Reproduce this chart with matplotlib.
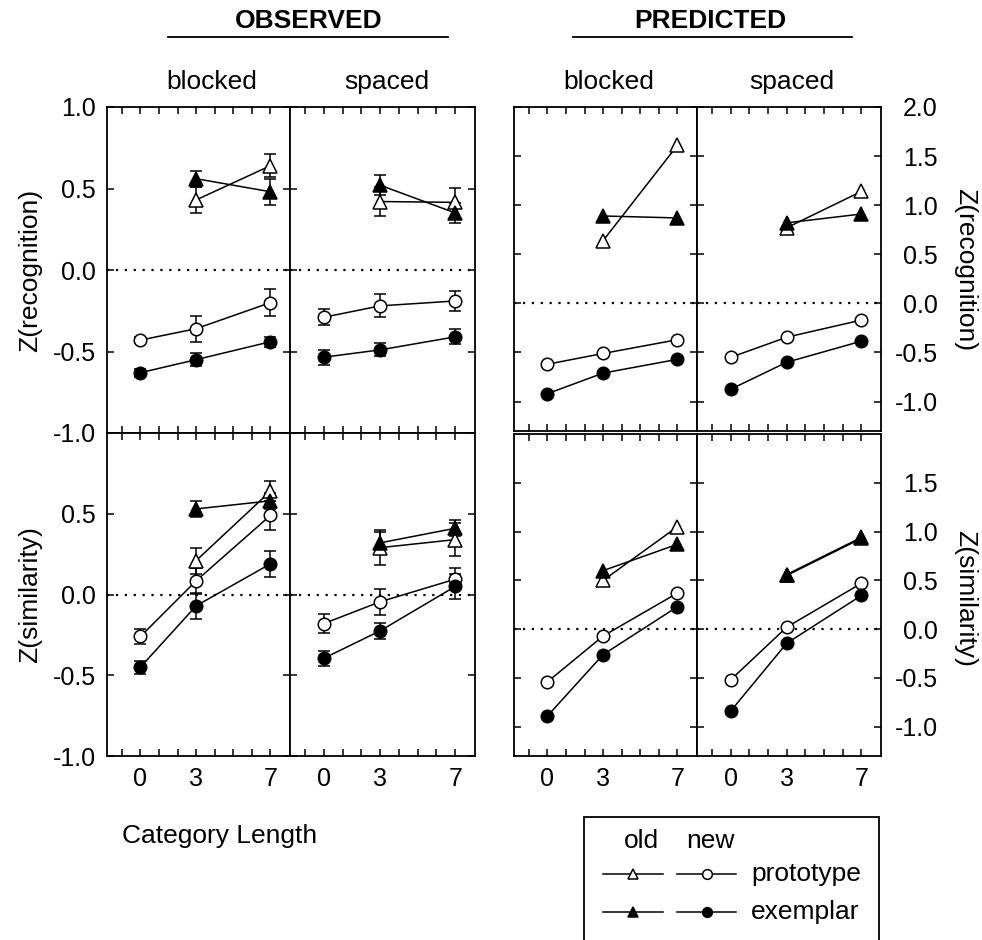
import matplotlib.pyplot as plt
from matplotlib.lines import Line2D
from matplotlib.patches import Rectangle

plt.rcParams['font.family'] = ['Liberation Sans', 'DejaVu Sans']

# category length positions
cat_len_old = [3, 7]
cat_len_new = [0, 3, 7]

# observed, recognition (po = prototype old, eo = exemplar old, pn = prototype new, en = exemplar new)
obs_rec_blk_po = [0.43, 0.64]
obs_rec_blk_eo = [0.56, 0.48]
obs_rec_blk_pn = [-0.43, -0.36, -0.20]
obs_rec_blk_en = [-0.63, -0.55, -0.44]
obs_rec_blk_po_err = [0.08, 0.07]
obs_rec_blk_eo_err = [0.05, 0.08]
obs_rec_blk_pn_err = [0.02, 0.08, 0.085]
obs_rec_blk_en_err = [0.025, 0.04, 0.03]

obs_rec_spc_po = [0.42, 0.415]
obs_rec_spc_eo = [0.52, 0.35]
obs_rec_spc_pn = [-0.29, -0.22, -0.19]
obs_rec_spc_en = [-0.535, -0.49, -0.41]
obs_rec_spc_po_err = [0.09, 0.09]
obs_rec_spc_eo_err = [0.06, 0.06]
obs_rec_spc_pn_err = [0.05, 0.07, 0.06]
obs_rec_spc_en_err = [0.045, 0.04, 0.045]

# observed, similarity
obs_sim_blk_po = [0.21, 0.64]
obs_sim_blk_eo = [0.53, 0.58]
obs_sim_blk_pn = [-0.26, 0.085, 0.49]
obs_sim_blk_en = [-0.45, -0.07, 0.19]
obs_sim_blk_po_err = [0.08, 0.06]
obs_sim_blk_eo_err = [0.05, 0.05]
obs_sim_blk_pn_err = [0.045, 0.08, 0.09]
obs_sim_blk_en_err = [0.04, 0.08, 0.08]

obs_sim_spc_po = [0.29, 0.34]
obs_sim_spc_eo = [0.32, 0.41]
obs_sim_spc_pn = [-0.18, -0.045, 0.095]
obs_sim_spc_en = [-0.395, -0.225, 0.05]
obs_sim_spc_po_err = [0.11, 0.10]
obs_sim_spc_eo_err = [0.07, 0.05]
obs_sim_spc_pn_err = [0.06, 0.08, 0.07]
obs_sim_spc_en_err = [0.045, 0.05, 0.08]

# predicted, recognition
pred_rec_blk_po = [0.64, 1.61]
pred_rec_blk_eo = [0.89, 0.87]
pred_rec_blk_pn = [-0.62, -0.51, -0.37]
pred_rec_blk_en = [-0.92, -0.71, -0.57]

pred_rec_spc_po = [0.77, 1.14]
pred_rec_spc_eo = [0.82, 0.91]
pred_rec_spc_pn = [-0.55, -0.345, -0.17]
pred_rec_spc_en = [-0.875, -0.60, -0.385]

# predicted, similarity
pred_sim_blk_po = [0.50, 1.05]
pred_sim_blk_eo = [0.60, 0.87]
pred_sim_blk_pn = [-0.54, -0.07, 0.37]
pred_sim_blk_en = [-0.89, -0.26, 0.23]

pred_sim_spc_po = [0.55, 0.93]
pred_sim_spc_eo = [0.56, 0.94]
pred_sim_spc_pn = [-0.52, 0.02, 0.47]
pred_sim_spc_en = [-0.84, -0.145, 0.345]

W, H = 982, 940
fig = plt.figure(figsize=(W / 100, H / 100), dpi=100)


def axes_px(x0, y0, x1, y1):
    return fig.add_axes([x0 / W, 1 - y1 / H, (x1 - x0) / W, (y1 - y0) / H])


def fig_text(x, y, s, **kw):
    fig.text(x / W, 1 - y / H, s, **kw)


marker_style = {
    'po': dict(marker='^', mfc='white', ms=10),
    'eo': dict(marker='^', mfc='black', ms=10),
    'pn': dict(marker='o', mfc='white', ms=9),
    'en': dict(marker='o', mfc='black', ms=9),
}


def draw_panel(ax, series, errs=None):
    ax.axhline(0, color='black', ls=(0, (1, 3)), lw=1.6, zorder=1)
    for key, vals in series.items():
        xs = cat_len_old if key.endswith('o') else cat_len_new
        st = marker_style[key]
        if errs is not None:
            ax.errorbar(xs, vals, yerr=errs[key], color='black', lw=1.1,
                        elinewidth=1.1, capsize=4, capthick=1.1,
                        mec='black', mew=1.1, zorder=3, **st)
        else:
            ax.plot(xs, vals, color='black', lw=1.1, mec='black', mew=1.1,
                    zorder=3, **st)


def style_axes(ax, ylim, yticks, ylabels_side, show_x, skip_top_label=False):
    ax.set_xlim(-1.8, 8.05)
    ax.set_ylim(*ylim)
    ax.set_xticks(range(-1, 8))
    ax.set_xticklabels([str(v) if v in (0, 3, 7) else '' for v in range(-1, 8)])
    ax.set_yticks(yticks)
    labels = [f'{v:.1f}' for v in yticks]
    if skip_top_label:
        labels[-1] = ''
    ax.set_yticklabels(labels)
    for sp in ax.spines.values():
        sp.set_linewidth(1.3)
    ax.tick_params(direction='in', length=5, width=1.1, top=True, right=True,
                   left=True, bottom=True, labelsize=18,
                   labelleft=(ylabels_side == 'left'),
                   labelright=(ylabels_side == 'right'),
                   labelbottom=show_x)
    ax.tick_params(axis='x', pad=8)
    if ylabels_side == 'right':
        # right-hand labels are right-aligned in the reference
        ax.tick_params(axis='y', pad=41)
        for lab in ax.get_yticklabels():
            lab.set_horizontalalignment('right')
    else:
        ax.tick_params(axis='y', pad=8)


obs_ticks = [-1.0, -0.5, 0.0, 0.5, 1.0]
pred_ticks_top = [-1.0, -0.5, 0.0, 0.5, 1.0, 1.5, 2.0]
pred_ticks_bot = [-1.0, -0.5, 0.0, 0.5, 1.0, 1.5]

# observed panels
ax = axes_px(107, 107, 290, 433)
draw_panel(ax, {'po': obs_rec_blk_po, 'eo': obs_rec_blk_eo, 'pn': obs_rec_blk_pn, 'en': obs_rec_blk_en},
           {'po': obs_rec_blk_po_err, 'eo': obs_rec_blk_eo_err, 'pn': obs_rec_blk_pn_err, 'en': obs_rec_blk_en_err})
style_axes(ax, (-1, 1), obs_ticks, 'left', False)

ax = axes_px(290, 107, 475, 433)
draw_panel(ax, {'po': obs_rec_spc_po, 'eo': obs_rec_spc_eo, 'pn': obs_rec_spc_pn, 'en': obs_rec_spc_en},
           {'po': obs_rec_spc_po_err, 'eo': obs_rec_spc_eo_err, 'pn': obs_rec_spc_pn_err, 'en': obs_rec_spc_en_err})
style_axes(ax, (-1, 1), obs_ticks, None, False)

ax = axes_px(107, 433, 290, 756)
draw_panel(ax, {'po': obs_sim_blk_po, 'eo': obs_sim_blk_eo, 'pn': obs_sim_blk_pn, 'en': obs_sim_blk_en},
           {'po': obs_sim_blk_po_err, 'eo': obs_sim_blk_eo_err, 'pn': obs_sim_blk_pn_err, 'en': obs_sim_blk_en_err})
style_axes(ax, (-1, 1), obs_ticks, 'left', True, skip_top_label=True)

ax = axes_px(290, 433, 475, 756)
draw_panel(ax, {'po': obs_sim_spc_po, 'eo': obs_sim_spc_eo, 'pn': obs_sim_spc_pn, 'en': obs_sim_spc_en},
           {'po': obs_sim_spc_po_err, 'eo': obs_sim_spc_eo_err, 'pn': obs_sim_spc_pn_err, 'en': obs_sim_spc_en_err})
style_axes(ax, (-1, 1), obs_ticks, None, True)

# predicted panels
ax = axes_px(514, 107, 697, 431)
draw_panel(ax, {'po': pred_rec_blk_po, 'eo': pred_rec_blk_eo, 'pn': pred_rec_blk_pn, 'en': pred_rec_blk_en})
style_axes(ax, (-1.3, 2.0), pred_ticks_top, None, False)

ax = axes_px(697, 107, 881, 431)
draw_panel(ax, {'po': pred_rec_spc_po, 'eo': pred_rec_spc_eo, 'pn': pred_rec_spc_pn, 'en': pred_rec_spc_en})
style_axes(ax, (-1.3, 2.0), pred_ticks_top, 'right', False)

ax = axes_px(514, 434, 697, 756)
draw_panel(ax, {'po': pred_sim_blk_po, 'eo': pred_sim_blk_eo, 'pn': pred_sim_blk_pn, 'en': pred_sim_blk_en})
style_axes(ax, (-1.3, 2.0), pred_ticks_bot, None, True)

ax = axes_px(697, 434, 881, 756)
draw_panel(ax, {'po': pred_sim_spc_po, 'eo': pred_sim_spc_eo, 'pn': pred_sim_spc_pn, 'en': pred_sim_spc_en})
style_axes(ax, (-1.3, 2.0), pred_ticks_bot, 'right', True)

# headings
fig_text(309, 21, 'OBSERVED', ha='center', va='center', fontsize=19, fontweight='bold')
fig_text(710, 21, 'PREDICTED', ha='center', va='center', fontsize=19, fontweight='bold')
fig.add_artist(Line2D([168 / W, 448 / W], [1 - 37 / H, 1 - 37 / H], color='black', lw=1.3))
fig.add_artist(Line2D([573 / W, 852 / W], [1 - 37 / H, 1 - 37 / H], color='black', lw=1.3))

for cx, name in [(212, 'blocked'), (387, 'spaced'), (609, 'blocked'), (792, 'spaced')]:
    fig_text(cx, 89, name, ha='center', va='baseline', fontsize=19)

fig_text(30, 270, 'Z(recognition)', rotation=90, ha='center', va='center', fontsize=19)
fig_text(30, 595, 'Z(similarity)', rotation=90, ha='center', va='center', fontsize=19)
fig_text(965, 270, 'Z(recognition)', rotation=270, ha='center', va='center', fontsize=19)
fig_text(965, 598, 'Z(similarity)', rotation=270, ha='center', va='center', fontsize=19)
fig_text(220, 843, 'Category Length', ha='center', va='baseline', fontsize=19)

# legend box (runs off the bottom edge, as in the reference)
fig.add_artist(Rectangle((584 / W, -0.05), (879 - 584) / W, (940 - 817) / H + 0.05,
                         transform=fig.transFigure, fill=False, ec='black', lw=1.3,
                         clip_on=False))
fig_text(641, 848, 'old', ha='center', va='baseline', fontsize=19)
fig_text(710, 848, 'new', ha='center', va='baseline', fontsize=19)
leg_rows = [(874, 'white', 'prototype'), (912, 'black', 'exemplar')]
for y, fc, label in leg_rows:
    for (x0, x1, mk) in [(603, 663, '^'), (677, 736, 'o')]:
        fig.add_artist(Line2D([x0 / W, x1 / W], [1 - y / H, 1 - y / H], color='black', lw=1.1))
        fig.add_artist(Line2D([(x0 + x1) / 2 / W], [1 - y / H], marker=mk, ms=7,
                              mfc=fc, mec='black', mew=1.1, ls='none'))
    fig_text(751, y, label, ha='left', va='center', fontsize=19)

fig.savefig('out.png', dpi=100)
